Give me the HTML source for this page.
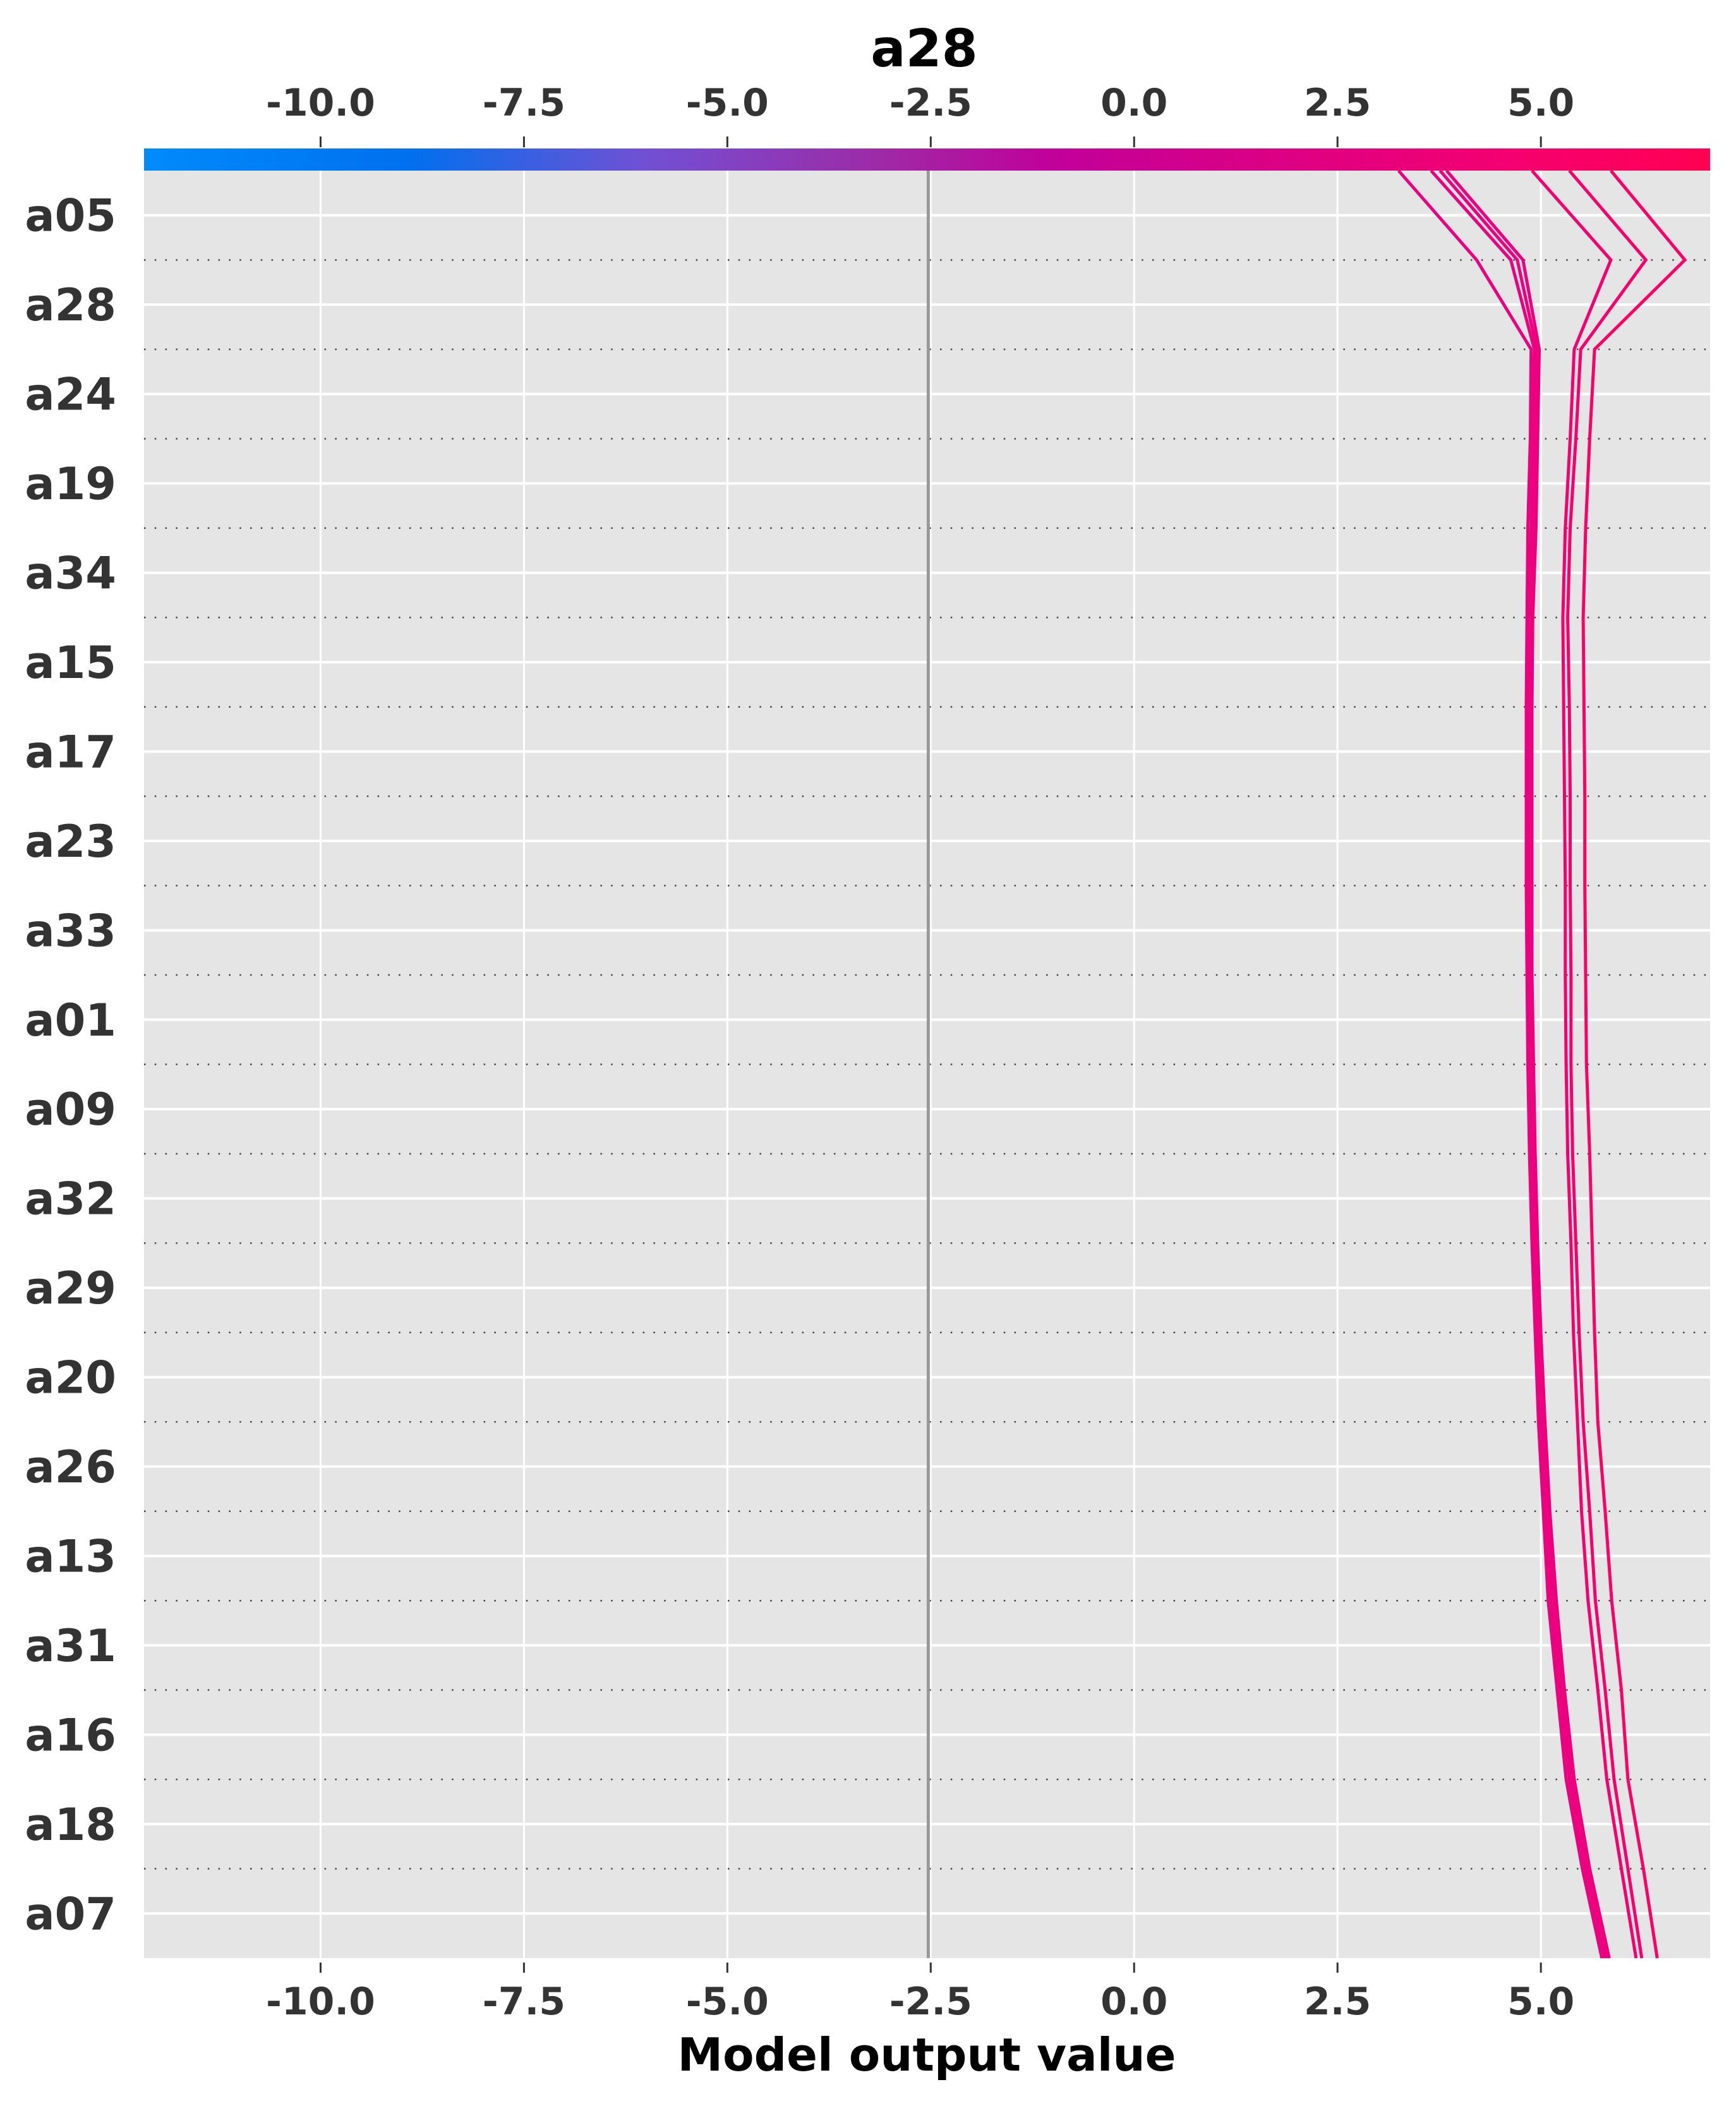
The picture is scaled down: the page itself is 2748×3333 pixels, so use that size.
<!DOCTYPE html>
<html><head><meta charset="utf-8"><style>
html,body{margin:0;padding:0;background:#fff;}
svg{display:block;}
text{font-family:"DejaVu Sans","Liberation Sans",sans-serif;font-weight:bold;}
</style></head>
<body>
<svg id="chart" width="2748" height="3333" viewBox="0 0 2748 3333" xmlns="http://www.w3.org/2000/svg">
<defs>
<linearGradient id="cbar" x1="0" x2="1" y1="0" y2="0">
<stop offset="0" stop-color="#008bfb"/><stop offset="0.17" stop-color="#0070ee"/>
<stop offset="0.32" stop-color="#7150d3"/><stop offset="0.47" stop-color="#9e2aa6"/>
<stop offset="0.58" stop-color="#c1009a"/><stop offset="0.72" stop-color="#db0084"/>
<stop offset="0.87" stop-color="#f40070"/><stop offset="1" stop-color="#ff0052"/>
</linearGradient>
</defs>
<g id="layer"></g>
</svg>
<script>
const features = ["a05","a28","a24","a19","a34","a15","a17","a23","a33","a01","a09","a32","a29","a20","a26","a13","a31","a16","a18","a07"];
const xTicks = [-10,-7.5,-5,-2.5,0,2.5,5];
const xTickLabels = ["-10.0","-7.5","-5.0","-2.5","0.0","2.5","5.0"];
const baseValue = -2.53;
const lineC1 = [3.25,4.21,4.88,4.87,4.84,4.83,4.82,4.82,4.82,4.83,4.84,4.86,4.89,4.93,4.97,5.03,5.09,5.20,5.31,5.51,5.75];
const lineC2 = [3.65,4.63,4.92,4.90,4.88,4.85,4.84,4.85,4.84,4.85,4.87,4.88,4.91,4.95,5.00,5.06,5.12,5.23,5.35,5.54,5.78];
const lineC3 = [3.76,4.71,4.95,4.93,4.91,4.88,4.87,4.87,4.86,4.87,4.89,4.91,4.94,4.98,5.03,5.08,5.16,5.26,5.38,5.57,5.81];
const lineC4 = [3.84,4.78,4.98,4.96,4.94,4.90,4.89,4.89,4.89,4.89,4.91,4.93,4.96,5.00,5.05,5.11,5.19,5.29,5.41,5.60,5.84];
const lineR1 = [4.89,5.86,5.41,5.36,5.30,5.27,5.28,5.29,5.30,5.30,5.31,5.33,5.37,5.40,5.45,5.50,5.58,5.70,5.81,5.99,6.17];
const lineR2 = [5.35,6.29,5.49,5.43,5.36,5.33,5.35,5.36,5.36,5.37,5.37,5.39,5.43,5.47,5.52,5.60,5.67,5.79,5.90,6.07,6.24];
const lineR3 = [5.86,6.77,5.66,5.60,5.55,5.52,5.53,5.54,5.54,5.55,5.56,5.60,5.63,5.66,5.70,5.79,5.87,5.99,6.07,6.26,6.43];
const seriesColors = ["#ea0080","#ea0080","#ec007e","#ec007e","#f5006f","#f7006c","#fb0066"];

const NS = "http://www.w3.org/2000/svg";
const L = 228, R = 2707, TOP = 270, BOT = 3099;
const xMin = -12.17, xMax = 7.08;
function xs(v){ return L + (v - xMin) / (xMax - xMin) * (R - L); }
const step = (BOT - TOP) / features.length;
function yb(k){ return TOP + k * step; }
const g = document.getElementById('layer');
function mk(tag, attrs, parent){ const e = document.createElementNS(NS, tag); for (const k in attrs) e.setAttribute(k, attrs[k]); (parent||g).appendChild(e); return e; }

let e = mk('rect',{x:L,y:TOP,width:R-L,height:BOT-TOP,fill:'#e5e5e5'});



xTicks.forEach((t,i)=>{
  let gl = mk('line',{x1:xs(t),x2:xs(t),y1:TOP,y2:BOT,stroke:'#fff','stroke-width':3});
  
  
  let tt = mk('line',{x1:xs(t),x2:xs(t),y1:216,y2:233,stroke:'#333','stroke-width':3});
  
  
  let bt = mk('line',{x1:xs(t),x2:xs(t),y1:3106,y2:3122,stroke:'#333','stroke-width':3});
  
  
  let tl = mk('text',{x:xs(t),y:183,'text-anchor':'middle','font-size':60,fill:'#333'});
  tl.textContent = xTickLabels[i];
  
  
  let bl = mk('text',{x:xs(t),y:3188,'text-anchor':'middle','font-size':60,fill:'#333'});
  bl.textContent = xTickLabels[i];
  
  
});

features.forEach((f,i)=>{
  const yc = yb(i+0.5);
  let hl = mk('line',{x1:L,x2:R,y1:yc,y2:yc,stroke:'#fff','stroke-width':4});
  
  
  let lb = mk('text',{x:184,y:yc+25,'text-anchor':'end','font-size':70,fill:'#333'});
  lb.textContent = f;
  
  
  if (i>0){
    let dl = mk('line',{x1:L,x2:R,y1:yb(i),y2:yb(i),stroke:'#444','stroke-width':2.5,'stroke-dasharray':'2.5 14.3'});
    
    
  }
});

let base = mk('line',{x1:xs(baseValue),x2:xs(baseValue),y1:TOP,y2:BOT,stroke:'#999','stroke-width':5});



[lineC1,lineC2,lineC3,lineC4,lineR1,lineR2,lineR3].forEach((s,i)=>{
  const pts = s.map((v,k)=> xs(v).toFixed(1)+','+yb(k).toFixed(1)).join(' ');
  let p = mk('polyline',{points:pts,fill:'none',stroke:seriesColors[i],'stroke-width':5,'stroke-linejoin':'miter'});
  
  
});

let cb = mk('rect',{x:L,y:235,width:R-L,height:35,fill:'url(#cbar)'});



let title = mk('text',{x:1463,y:105,'text-anchor':'middle','font-size':82,fill:'#000'});
title.textContent = 'a28';



let xl = mk('text',{x:1467,y:3277,'text-anchor':'middle','font-size':72,fill:'#000'});
xl.textContent = 'Model output value';


</script>
</body></html>
